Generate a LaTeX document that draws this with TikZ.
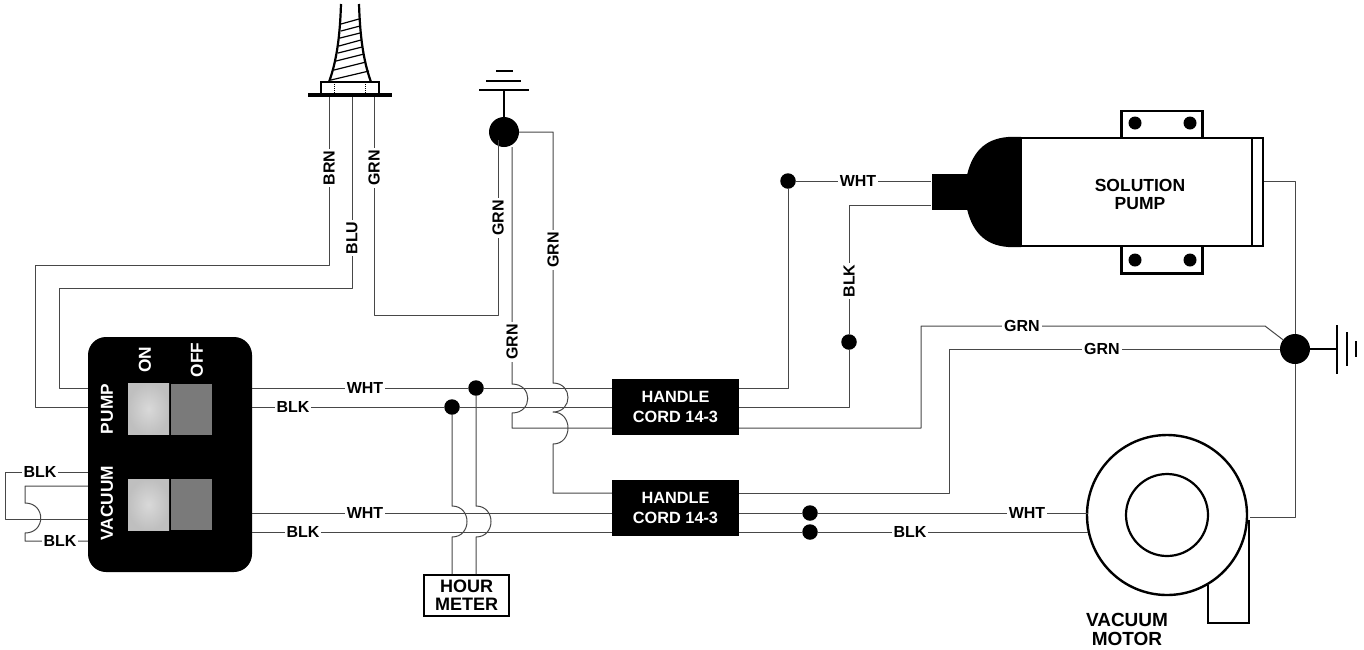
\documentclass[tikz,border=0pt]{standalone}
\usepackage{fontspec}
\setmainfont{Liberation Sans}
\usetikzlibrary{calc}
\definecolor{wirec}{gray}{0.28}
\tikzset{
  x=1pt,y=-1pt,
  wire/.style={draw=wirec,line width=1pt,line join=round},
  lab/.style={font=\fontsize{16}{17}\selectfont\bfseries,fill=white,inner sep=2pt,text=black},
  vlab/.style={lab,rotate=90},
  wtext/.style={font=\fontsize{16.3}{20}\selectfont\bfseries,text=white,align=center,inner sep=0pt},
  paneltext/.style={font=\fontsize{17.3}{20}\selectfont\bfseries,text=white,align=center,inner sep=0pt,rotate=90},
  btext/.style={font=\fontsize{18}{18}\selectfont\bfseries,text=black,align=center,inner sep=0pt},
  bigdot/.style={circle,fill=black,minimum size=30pt,inner sep=0pt},
  smalldot/.style={circle,fill=black,minimum size=15.5pt,inner sep=0pt},
  boltdot/.style={circle,fill=black,minimum size=13pt,inner sep=0pt},
  blackbox/.style={fill=black,inner sep=0pt,rounded corners=0pt},
  onsq/.style={inner sep=0pt,minimum width=41pt,minimum height=51pt,inner color=gray!30!white,outer color=gray!50!white},
  offsq/.style={inner sep=0pt,minimum width=41pt,minimum height=51pt,fill=black!52},
}
\begin{document}
\begin{tikzpicture}
\useasboundingbox (0,0) rectangle (1364,649);

% switch panel
\node[blackbox,rounded corners=18pt,minimum width=164pt,minimum height=235pt] (sw) at (170,454.5) {};
\node[onsq]  (s1) at (148.5,409) {};
\node[offsq] (s2) at (191.5,409) {};
\node[onsq]  (s3) at (148.5,504.5) {};
\node[offsq] (s4) at (191.5,504.5) {};
\node[paneltext] (tOn) at (145,360) {ON};
\node[paneltext] (tOff) at (197,360) {OFF};
\node[paneltext] (tPump) at (107,409) {PUMP};
\node[paneltext] (tVac) at (107,503) {VACUUM};

% handle cords and hour meter
\node[blackbox,minimum width=127pt,minimum height=56pt,wtext] (hc1) at (675.5,407) {HANDLE\\CORD 14-3};
\node[blackbox,minimum width=127pt,minimum height=56pt,wtext] (hc2) at (675.5,508) {HANDLE\\CORD 14-3};
\node[draw=black,line width=2pt,fill=white,minimum width=85pt,minimum height=41pt,btext] (meter) at (466.5,595.5) {HOUR\\METER};

% junction dots
\node[bigdot] (gndT) at (504,132) {};
\node[bigdot] (gndR) at (1295,349) {};
\node[smalldot] (dW) at (476,388) {};
\node[smalldot] (dB) at (452,407) {};
\node[smalldot] (d3) at (788,181) {};
\node[smalldot] (d4) at (849,342) {};
\node[smalldot] (d5) at (810,513) {};
\node[smalldot] (d6) at (810,532) {};

% solution pump
\node[draw=black,line width=2.4pt,fill=white,minimum width=81pt,minimum height=28pt,inner sep=0pt] (brT) at (1162,125) {};
\node[draw=black,line width=2.4pt,fill=white,minimum width=81pt,minimum height=28pt,inner sep=0pt] (brB) at (1162,259.5) {};
\node[boltdot] (b1) at (1135,123) {};
\node[boltdot] (b2) at (1190,123) {};
\node[boltdot] (b3) at (1135,260) {};
\node[boltdot] (b4) at (1190,260) {};
\node[draw=black,line width=2.4pt,fill=white,minimum width=242pt,minimum height=108pt,inner sep=0pt] (pump) at (1142,192) {};
\draw[line width=1.6pt] (1252,138) -- (1252,246);
\fill[black] (1021,136.8) -- (1013,136.8) .. controls (987,137) and (973,150) .. (967,175)
  -- (967,209) .. controls (973,234) and (987,247) .. (1013,247.2) -- (1021,247.2) -- cycle;
\node[blackbox,minimum width=37pt,minimum height=36pt] (pconn) at (950,192) {};
\node[btext,font=\fontsize{17.5}{18}\selectfont\bfseries] (tSol) at (1140,194) {SOLUTION\\PUMP};

% vacuum motor
\draw[line width=2.4pt] (1208,585) -- (1208,623) -- (1249,623) -- (1249,520);
\node[circle,draw=black,line width=2.4pt,fill=white,minimum size=160pt,inner sep=0pt] (motor) at (1167,515) {};
\node[circle,draw=black,line width=2.2pt,minimum size=82pt,inner sep=0pt] (rotor) at (1167,515) {};
\node[btext,font=\fontsize{19}{19.5}\selectfont\bfseries] (tVM) at (1127,629.5) {VACUUM\\MOTOR};

% power plug
\draw[line width=2.2pt] (341,4) .. controls (340,35) and (337,60) .. (329,82);
\draw[line width=2.2pt] (359,4) .. controls (360,35) and (363,60) .. (371,82);
\foreach \a/\b/\c/\d in {341/24/359/19,341/31/360/26,340/38/360/33,339/46/361/40,338/53/362/47,336/61/364/54,334/70/366/62,331/80/369/71}
  \draw[line width=1.2pt] (\a,\b) -- (\c,\d);
\node[draw=black,line width=1.6pt,fill=white,minimum width=58pt,minimum height=13pt,inner sep=0pt] (plugB) at (350,88.5) {};
\draw[densely dotted,line width=1pt] (334,82) -- (334,95) (365,82) -- (365,95);
\node[fill=black,minimum width=84pt,minimum height=4.5pt,inner sep=0pt] (plate) at (350,95) {};

% grounds
\draw[line width=2.4pt] (gndT) -- (504,90);
\node[fill=black,minimum width=50pt,minimum height=2.6pt,inner sep=0pt] (g1) at (504,90) {};
\node[fill=black,minimum width=35pt,minimum height=2.4pt,inner sep=0pt] (g2) at (503.5,81) {};
\node[fill=black,minimum width=17pt,minimum height=2.4pt,inner sep=0pt] (g3) at (504.5,71) {};
\draw[line width=2.4pt] (gndR) -- (1337,349);
\node[fill=black,minimum width=2.6pt,minimum height=49pt,inner sep=0pt] (g4) at (1337,349.5) {};
\node[fill=black,minimum width=2.4pt,minimum height=34pt,inner sep=0pt] (g5) at (1347,349) {};
\node[fill=black,minimum width=2.4pt,minimum height=16pt,inner sep=0pt] (g6) at (1356,349) {};

% wires from the plug
\draw[wire] (plate.south -| 329,0) -- (329,265) -- (35,265) -- (35,407) -- (sw.west |- 0,407);
\draw[wire] (plate.south -| 352,0) -- (352,288) -- (59,288) -- (59,388) -- (sw.west |- 0,388);
\draw[wire] (plate.south -| 374,0) -- (374,315) -- (498,315) -- (498,140);

% panel to cord
\draw[wire] (sw.east |- dW) -- (dW) -- (hc1.west |- dW);
\draw[wire] (sw.east |- dB) -- (dB) -- (hc1.west |- dB);
\draw[wire] (sw.east |- d5) -- (hc2.west |- d5);
\draw[wire] (sw.east |- d6) -- (hc2.west |- d6);

% vacuum jumper loop
\draw[wire] (sw.west |- 0,472) -- (5,472) -- (5,519) -- (sw.west |- 0,519);
\draw[wire] (sw.west |- 0,486) -- (25,486) -- (25,503) .. controls (46,503) and (46,533) .. (25,533) -- (25,541) -- (sw.west |- 0,541);

% hour meter feeds
\draw[wire] (dB) -- (452,506) .. controls (472,506) and (472,537) .. (452,537) -- (meter.north -| 452,0);
\draw[wire] (dW) -- (476,506) .. controls (496,506) and (496,537) .. (476,537) -- (meter.north -| 476,0);

% green leads
\draw[wire] (gndT.south -| 512,0) -- (512,384) .. controls (533,384) and (533,413) .. (512,413) -- (512,428) -- (hc1.west |- 0,428);
\draw[wire] (gndT.east) -- (553,132) -- (553,383) .. controls (573,383) and (573,412) .. (553,412)
  .. controls (573,412) and (573,444) .. (553,444) -- (553,493) -- (hc2.west |- 0,493);

% cord to pump, motor and ground
\draw[wire] (hc1.east |- dW) -- (788,388) -- (d3);
\draw[wire] (d3) -- (pconn.west |- d3);
\draw[wire] (hc1.east |- dB) -- (849,407) -- (d4);
\draw[wire] (d4) -- (849,205) -- (pconn.west |- 0,205);
\draw[wire] (hc1.east |- 0,428) -- (921,428) -- (921,326) -- (1265,326) -- (gndR);
\draw[wire] (hc2.east |- 0,493) -- (949,493) -- (949,349) -- (gndR);
\draw[wire] (hc2.east |- d5) -- (d5) -- (1088,513);
\draw[wire] (hc2.east |- d6) -- (d6) -- (1088,532);
\draw[wire] (pump.east |- 0,181) -- (1295,181) -- (gndR);
\draw[wire] (gndR) -- (1295,517) -- (1250,517);

% wire labels
\node[vlab] (l1) at (329,168) {BRN};
\node[vlab] (l2) at (374,168) {GRN};
\node[vlab] (l3) at (352,238) {BLU};
\node[vlab] (l4) at (498,218) {GRN};
\node[vlab] (l5) at (553,250) {GRN};
\node[vlab] (l6) at (512,342) {GRN};
\node[vlab] (l7) at (849,281) {BLK};
\node[lab] (l8) at (365,388) {WHT};
\node[lab] (l9) at (293,407) {BLK};
\node[lab] (l10) at (365,513) {WHT};
\node[lab] (l11) at (303,532) {BLK};
\node[lab] (l12) at (858,181) {WHT};
\node[lab] (l13) at (1022,326) {GRN};
\node[lab] (l14) at (1102,349) {GRN};
\node[lab] (l15) at (1027,513) {WHT};
\node[lab] (l16) at (910,532) {BLK};
\node[lab] (l17) at (40,472) {BLK};
\node[lab] (l18) at (60,541) {BLK};
\end{tikzpicture}
\end{document}
